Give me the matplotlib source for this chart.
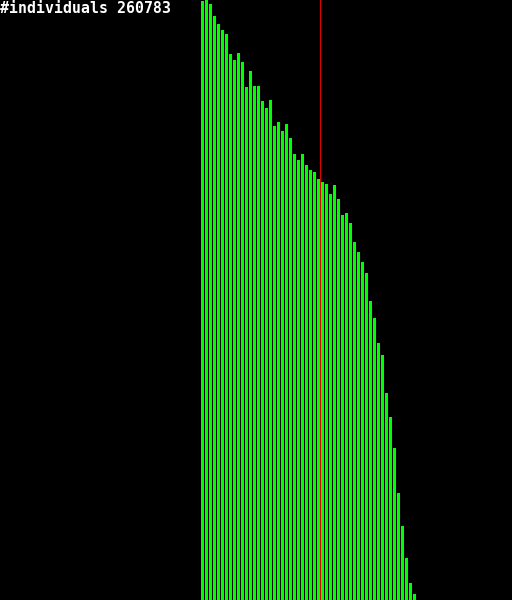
import matplotlib
matplotlib.use("Agg")
import matplotlib.pyplot as plt
import numpy as np

# bar heights (counts, arbitrary units)
heights = [599, 600, 596, 584, 576, 570, 566, 546, 540, 547, 538, 513, 529, 514, 514, 499,
           492, 500, 474, 478, 469, 476, 462, 446, 440, 446, 435, 430, 428, 421,
           418, 416, 406, 415, 401, 385, 387, 377, 358, 348, 338, 327, 299, 282,
           257, 245, 207, 183, 152, 107, 74, 42, 17, 6]
marker_pos = 29.75  # red vertical line position (in bar index units)
label = "#individuals 260783"

fig = plt.figure(figsize=(5.12, 6.0), dpi=100, facecolor="black")
ax = fig.add_axes([0, 0, 1, 1])
ax.set_facecolor("black")
x = np.arange(len(heights))
bars = ax.bar(x, heights, width=0.75, align="edge", color="#00ff00", linewidth=0)
for b in bars:
    b.set_snap(False)
ln = ax.axvline(marker_pos + 0.125, color="#e00000", linewidth=0.72)
ln.set_snap(False)
ax.set_xlim(-50.25, 77.75)
ax.set_ylim(0, 600)
ax.axis("off")
fig.text(0.0, 1 - 1/600, label, color="white", family="DejaVu Sans Mono",
         fontsize=10.7, fontweight="bold", ha="left", va="top")
fig.savefig("out.png", dpi=100, facecolor="black")
